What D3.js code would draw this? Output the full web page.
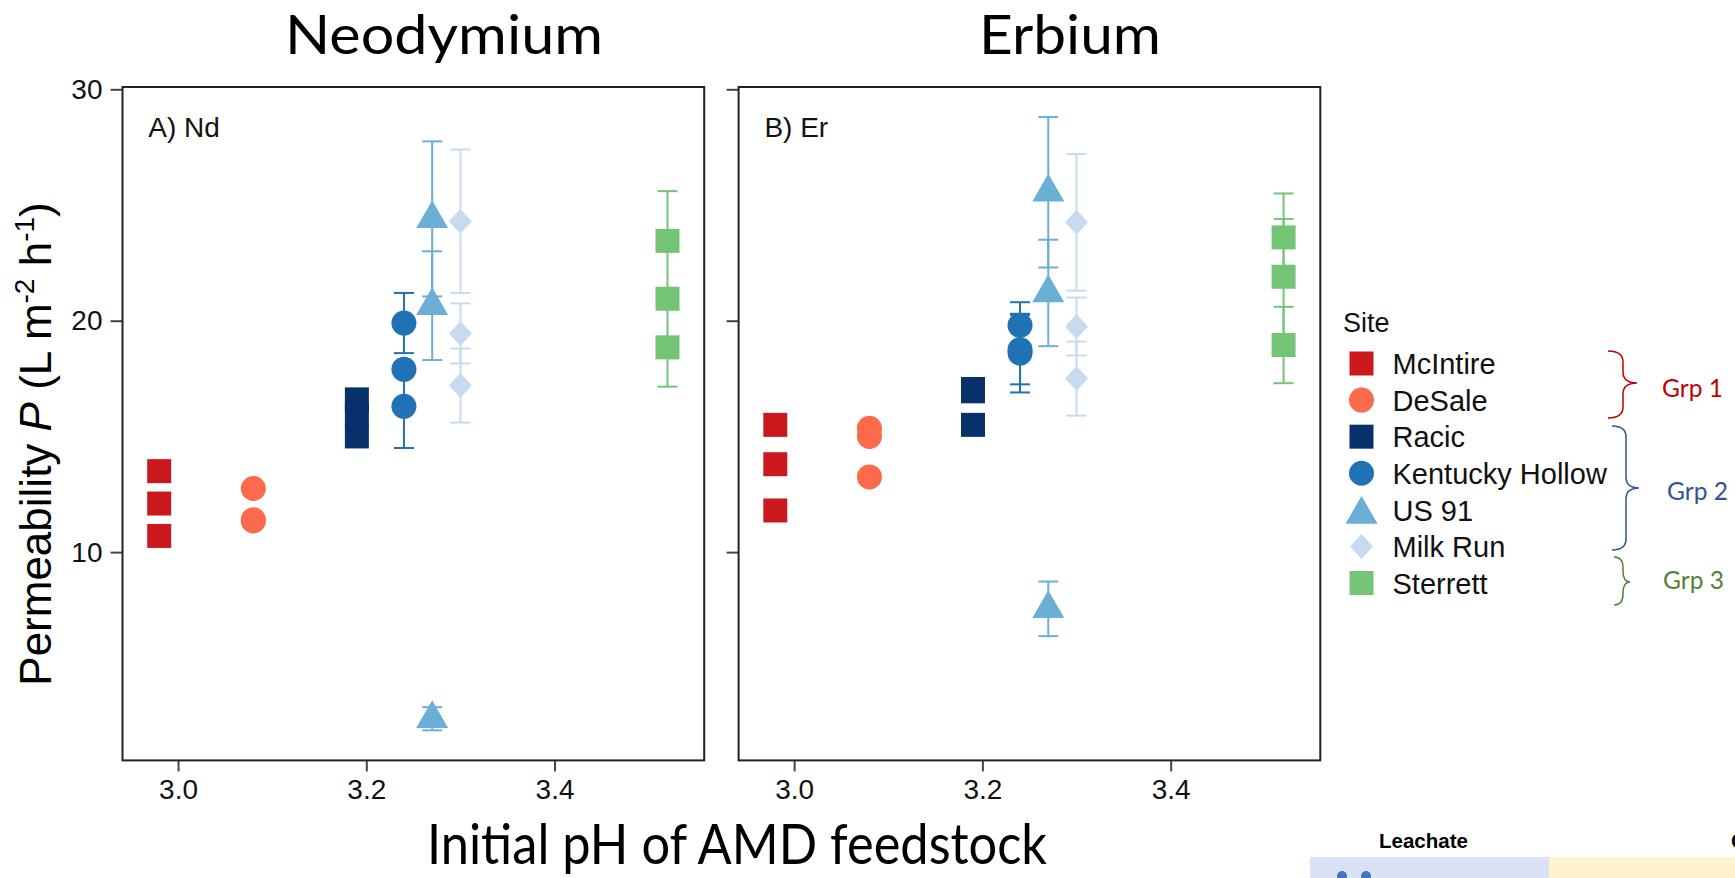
<!DOCTYPE html>
<html>
<head>
<meta charset="utf-8">
<script src="https://cdn.jsdelivr.net/npm/d3@7"></script>
<style>
  body { margin: 0; background: #fff; }
  svg text { font-family: "Liberation Sans", Arial, sans-serif; }
  .calibri { font-family: Lato, "Open Sans", sans-serif; }
</style>
</head>
<body>
<div id="chart"></div>
<script>
// sites, ordered as in the legend
const sites = ["McIntire", "DeSale", "Racic", "Kentucky Hollow", "US 91", "Milk Run", "Sterrett"];
const sitePH = [2.98, 3.08, 3.19, 3.24, 3.27, 3.30, 3.52];

// permeability (L m-2 h-1), three runs per site, with +/- error
const ndValues = [
  [13.5, 12.1, 10.7],
  [12.75, 11.4, 11.35],
  [16.6, 15.95, 15.0],
  [19.9, 17.9, 16.3],
  [24.4, 20.65, 2.8],
  [24.3, 19.45, 17.2],
  [23.45, 20.95, 18.85]
];
const ndErrors = [
  [0, 0, 0],
  [0, 0, 0],
  [0, 0, 0],
  [1.3, 0.3, 1.8],
  [3.35, 2.35, 0.5],
  [3.1, 1.3, 1.6],
  [2.15, 0.4, 1.7]
];
const erValues = [
  [15.5, 13.8, 11.8],
  [15.35, 15.0, 13.25],
  [17.05, 16.95, 15.5],
  [19.8, 18.6, 18.75],
  [25.55, 21.2, 7.55],
  [24.25, 19.75, 17.5],
  [23.6, 21.9, 18.95]
];
const erErrors = [
  [0, 0, 0],
  [0, 0, 0],
  [0, 0, 0],
  [1.0, 1.7, 1.5],
  [3.25, 2.3, 1.18],
  [2.95, 1.25, 1.6],
  [1.9, 2.5, 1.65]
];

const panelTitles = ["Neodymium", "Erbium"];
const panelTags = ["A) Nd", "B) Er"];
const xTicks = [3.0, 3.2, 3.4];
const yTicks = [10, 20, 30];
const groupLabels = ["Grp 1", "Grp 2", "Grp 3"];

const siteColors = ["#cb181d", "#fb6a4a", "#08306b", "#2171b5", "#6baed6", "#c6dbef", "#74c476"];
const siteShapes = ["square", "circle", "square", "circle", "triangle", "diamond", "square"];
const groupColors = ["#c00000", "#2f5597", "#548235"];

const W = 1735, H = 878;
const panelW = 581.7, panelH = 673.4, panelTop = 87;
const panelLeft = [122.5, 738.6];

const svg = d3.select("#chart").append("svg")
    .attr("width", W)
    .attr("height", H);

let x = d3.scaleLinear().domain([2.941, 3.559]).range([0, panelW]);
let y = d3.scaleLinear().domain([1.0, 30.1]).range([panelH, 0]);

// marker shapes as d3 symbol types
const shapes = {
  square: { draw(ctx) { ctx.rect(-12, -12, 24, 24); } },
  circle: { draw(ctx) { ctx.moveTo(12.5, 0); ctx.arc(0, 0, 12.5, 0, 2 * Math.PI); } },
  triangle: { draw(ctx) { ctx.moveTo(0, -18.5); ctx.lineTo(16, 9.2); ctx.lineTo(-16, 9.2); ctx.closePath(); } },
  diamond: { draw(ctx) { ctx.moveTo(0, -12.5); ctx.lineTo(11.5, 0); ctx.lineTo(0, 12.5); ctx.lineTo(-11.5, 0); ctx.closePath(); } }
};
function symbolPath(shape) { return d3.symbol().type(shapes[shape])(); }

function drawPanel(i, values, errors) {
  let g = svg.append("g")
      .attr("transform", "translate(" + panelLeft[i] + "," + panelTop + ")");

  let yAxis = d3.axisLeft(y).tickValues(yTicks).tickSize(12).tickPadding(8);
  if (i > 0) yAxis.tickFormat("");
  let xAxis = d3.axisBottom(x).tickValues(xTicks).tickSize(11).tickPadding(8).tickFormat(d3.format(".1f"));

  g.append("g").attr("class", "axis axis--y").call(yAxis);
  g.append("g").attr("class", "axis axis--x")
      .attr("transform", "translate(0," + panelH + ")")
      .call(xAxis);
  g.selectAll(".axis .domain").remove();
  g.selectAll(".axis line").attr("stroke", "#444").attr("stroke-width", 2);
  g.selectAll(".axis text").attr("font-size", 28).attr("fill", "#111")
      .style("font-family", "'Liberation Sans', Arial, sans-serif");

  g.append("rect")
      .attr("width", panelW)
      .attr("height", panelH)
      .attr("fill", "none")
      .attr("stroke", "#222")
      .attr("stroke-width", 2);

  g.append("text")
      .attr("x", 25.8)
      .attr("y", 49.5)
      .attr("font-size", 28)
      .attr("fill", "#111")
      .text(panelTags[i]);

  let pts = [];
  sites.forEach(function(s, k) {
    values[k].forEach(function(v, j) {
      pts.push({site: k, ph: sitePH[k], v: v, e: errors[k][j]});
    });
  });

  // error bars first, markers on top
  let bars = g.selectAll("g.err")
      .data(pts.filter(function(d) { return d.e > 0; }))
      .enter().append("g")
      .attr("class", "err")
      .attr("stroke", function(d) { return siteColors[d.site]; })
      .attr("stroke-width", 2);
  bars.append("line")
      .attr("x1", function(d) { return x(d.ph); })
      .attr("x2", function(d) { return x(d.ph); })
      .attr("y1", function(d) { return y(d.v - d.e); })
      .attr("y2", function(d) { return y(d.v + d.e); });
  bars.selectAll("line.cap")
      .data(function(d) { return [{ph: d.ph, v: d.v - d.e}, {ph: d.ph, v: d.v + d.e}]; })
      .enter().append("line")
      .attr("class", "cap")
      .attr("x1", function(d) { return x(d.ph) - 10; })
      .attr("x2", function(d) { return x(d.ph) + 10; })
      .attr("y1", function(d) { return y(d.v); })
      .attr("y2", function(d) { return y(d.v); });

  g.selectAll("path.pt")
      .data(pts)
      .enter().append("path")
      .attr("class", "pt")
      .attr("d", function(d) { return symbolPath(siteShapes[d.site]); })
      .attr("transform", function(d) { return "translate(" + x(d.ph) + "," + y(d.v) + ")"; })
      .attr("fill", function(d) { return siteColors[d.site]; });
}

drawPanel(0, ndValues, ndErrors);
drawPanel(1, erValues, erErrors);

// big titles
const titleX = [444, 1070], titleLen = [318, 182];
panelTitles.forEach(function(t, i) {
  svg.append("text")
      .attr("class", "calibri")
      .attr("x", titleX[i])
      .attr("y", 54)
      .attr("text-anchor", "middle")
      .attr("font-size", 55)
      .attr("textLength", titleLen[i])
      .attr("lengthAdjust", "spacingAndGlyphs")
      .attr("fill", "#000")
      .text(t);
});

svg.append("text")
    .attr("class", "calibri")
    .attr("x", 737)
    .attr("y", 864)
    .attr("text-anchor", "middle")
    .attr("font-size", 56)
    .attr("textLength", 620)
    .attr("lengthAdjust", "spacingAndGlyphs")
    .attr("fill", "#000")
    .text("Initial pH of AMD feedstock");

// y title with italic P and superscripts
let yt = svg.append("text")
    .attr("transform", "translate(51,444) rotate(-90)")
    .attr("text-anchor", "middle")
    .attr("font-size", 44)
    .attr("fill", "#000");
yt.append("tspan").text("Permeability  ");
yt.append("tspan").attr("font-style", "italic").text("P");
yt.append("tspan").text(" (L m");
yt.append("tspan").attr("font-size", 28).attr("dy", -17).text("-2");
yt.append("tspan").attr("dy", 17).text(" h");
yt.append("tspan").attr("font-size", 28).attr("dy", -17).text("-1");
yt.append("tspan").attr("dy", 17).text(")");

// legend
let legend = svg.append("g").attr("transform", "translate(1343,0)");
legend.append("text")
    .attr("x", 0)
    .attr("y", 332)
    .attr("font-size", 27)
    .attr("fill", "#111")
    .text("Site");

let rowY = d3.scalePoint().domain(sites).range([363.5, 583]);
let item = legend.selectAll("g.item")
    .data(sites)
    .enter().append("g")
    .attr("class", "item")
    .attr("transform", function(d) { return "translate(0," + rowY(d) + ")"; });
item.append("path")
    .attr("d", function(d, k) { return symbolPath(siteShapes[k]); })
    .attr("transform", function(d, k) { return "translate(18.5," + (siteShapes[k] === "triangle" ? 4.6 : 0) + ")"; })
    .attr("fill", function(d, k) { return siteColors[k]; });
item.append("text")
    .attr("x", 49.5)
    .attr("dy", "0.37em")
    .attr("font-size", 29)
    .attr("fill", "#111")
    .text(function(d) { return d; });

// curly braces grouping the sites
const braces = [
  {x0: 1608, xs: 1623, xt: 1637, y0: 351, ym: 383, y1: 418, lx: 1662, ly: 397},
  {x0: 1612, xs: 1626, xt: 1639, y0: 426, ym: 488, y1: 550, lx: 1667, ly: 500},
  {x0: 1614, xs: 1623, xt: 1630, y0: 557, ym: 582, y1: 605, lx: 1663, ly: 589}
];
braces.forEach(function(b, i) {
  let r = Math.min(11, (b.ym - b.y0) / 2);
  let p = d3.path();
  p.moveTo(b.x0, b.y0);
  p.quadraticCurveTo(b.xs, b.y0, b.xs, b.y0 + r);
  p.lineTo(b.xs, b.ym - r);
  p.quadraticCurveTo(b.xs, b.ym, b.xt, b.ym);
  p.quadraticCurveTo(b.xs, b.ym, b.xs, b.ym + r);
  p.lineTo(b.xs, b.y1 - r);
  p.quadraticCurveTo(b.xs, b.y1, b.x0, b.y1);
  svg.append("path")
      .attr("d", p.toString())
      .attr("fill", "none")
      .attr("stroke", groupColors[i])
      .attr("stroke-width", 1.5);
  svg.append("text")
      .attr("class", "calibri")
      .attr("x", b.lx)
      .attr("y", b.ly)
      .attr("font-size", 25)
      .attr("textLength", 61)
      .attr("lengthAdjust", "spacingAndGlyphs")
      .attr("fill", groupColors[i])
      .text(groupLabels[i]);
});

// edge of the neighbouring figure
svg.append("rect").attr("x", 1310).attr("y", 857).attr("width", 239).attr("height", 21).attr("fill", "#dae3f3");
svg.append("rect").attr("x", 1549).attr("y", 857).attr("width", 186).attr("height", 21).attr("fill", "#fff2cc");
svg.selectAll("circle.dot")
    .data([1342, 1366])
    .enter().append("circle")
    .attr("class", "dot")
    .attr("cx", function(d) { return d; })
    .attr("cy", 876)
    .attr("r", 5)
    .attr("fill", "#4472c4");
svg.append("text")
    .attr("x", 1379)
    .attr("y", 848)
    .attr("font-size", 20.5)
    .attr("font-weight", "bold")
    .attr("fill", "#000")
    .text("Leachate");
svg.append("text")
    .attr("x", 1731)
    .attr("y", 848)
    .attr("font-size", 20.5)
    .attr("font-weight", "bold")
    .attr("fill", "#000")
    .text("C");
</script>
</body>
</html>
